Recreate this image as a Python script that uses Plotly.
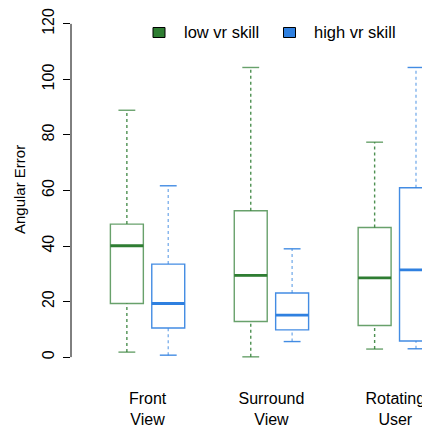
import plotly.graph_objects as go

categories = ['Front<br>View', 'Surround<br>View', 'Rotating<br>User']
series_names = ['low vr skill', 'high vr skill']

low_min = [1.8, 0.1, 2.9]
low_q1 = [19.3, 12.8, 11.4]
low_med = [40.1, 29.4, 28.5]
low_q3 = [47.9, 52.7, 46.7]
low_max = [88.9, 104.3, 77.4]

high_min = [0.7, 5.6, 3.0]
high_q1 = [10.5, 9.8, 5.8]
high_med = [19.3, 15.1, 31.4]
high_q3 = [33.5, 23.1, 61.0]
high_max = [61.7, 39.0, 104.3]

y_ticks = [0, 20, 40, 60, 80, 100, 120]

# the page body has an 8px default margin; the figure is sized to end at the window edge
PAGE_OFF = 8
W, H = 430 - PAGE_OFF, 428 - PAGE_OFF
ML, MR, MT, MB = 71 - PAGE_OFF, 0, 10 - PAGE_OFF, 57
FONT = 'Liberation Sans, Arial, Helvetica, sans-serif'

GREEN = '#2E7D32'
GREEN_BOX = 'rgba(46,125,50,0.72)'
GREEN_WH = 'rgba(46,125,50,0.85)'
BLUE = '#2F80E0'
BLUE_BOX = 'rgba(47,128,224,0.9)'
BLUE_WH = 'rgba(47,128,224,0.6)'

centers = [1, 2, 3]
off = 0.167
box_w = 0.266
cap_half = 0.068

fig = go.Figure()

groups = [
    (series_names[0], -off, low_min, low_q1, low_med, low_q3, low_max, GREEN, GREEN_BOX, GREEN_WH),
    (series_names[1], off, high_min, high_q1, high_med, high_q3, high_max, BLUE, BLUE_BOX, BLUE_WH),
]

for name, o, mn, q1, med, q3, mx, col, boxcol, whcol in groups:
    xs = [c + o for c in centers]
    fig.add_trace(go.Box(
        x=xs, q1=q1, median=med, q3=q3, lowerfence=q1, upperfence=q3,
        width=box_w, whiskerwidth=0, fillcolor='rgba(255,255,255,0)',
        line=dict(color=boxcol, width=1.4), name=name, showlegend=False,
        hoverinfo='skip'))
    # whiskers
    wx, wy = [], []
    for x, a, b, c, d in zip(xs, mn, q1, q3, mx):
        wx += [x, x, None, x, x, None]
        wy += [a, b, None, c, d, None]
    fig.add_trace(go.Scatter(x=wx, y=wy, mode='lines', showlegend=False,
                             line=dict(color=whcol, width=1.4, dash='3px,3px'),
                             hoverinfo='skip'))
    # caps
    cx, cy = [], []
    for x, a, d in zip(xs, mn, mx):
        cx += [x - cap_half, x + cap_half, None, x - cap_half, x + cap_half, None]
        cy += [a, a, None, d, d, None]
    fig.add_trace(go.Scatter(x=cx, y=cy, mode='lines', showlegend=False,
                             line=dict(color=boxcol, width=1.4), hoverinfo='skip'))
    # medians
    mxs, mys = [], []
    for x, m in zip(xs, med):
        mxs += [x - box_w / 2, x + box_w / 2, None]
        mys += [m, m, None]
    fig.add_trace(go.Scatter(x=mxs, y=mys, mode='lines', showlegend=False,
                             line=dict(color=col, width=2.8), hoverinfo='skip'))

PW = W - ML - MR
PH = H - MT - MB


def px(xp):
    # page pixel -> paper
    return (xp - PAGE_OFF - ML) / PW


def py(yp):
    return (H - MB - (yp - PAGE_OFF)) / PH


shapes = [
    dict(type='line', xref='paper', yref='y', x0=0, x1=0, y0=y_ticks[0], y1=y_ticks[-1],
         line=dict(color='black', width=1)),
]
annotations = [
    dict(text='Angular Error', xref='paper', yref='paper', x=px(19), y=py(190),
         showarrow=False, textangle=-90, font=dict(family=FONT, size=15, color='black'),
         xanchor='center', yanchor='middle'),
]
legend_items = [(series_names[0], GREEN, 153, 181.5), (series_names[1], BLUE, 283.5, 311.5)]
for name, col, sx, tx in legend_items:
    shapes.append(dict(type='rect', xref='paper', yref='paper',
                       x0=px(sx), x1=px(sx + 12), y0=py(37.5), y1=py(27.5),
                       fillcolor=col, line=dict(color='black', width=1)))
    annotations.append(dict(text=name, xref='paper', yref='paper', x=px(tx), y=py(32),
                            showarrow=False, xanchor='left', yanchor='middle',
                            font=dict(family=FONT, size=16.5, color='black')))

fig.update_layout(
    width=W, height=H, margin=dict(l=ML, r=MR, t=MT, b=MB, autoexpand=False),
    paper_bgcolor='white', plot_bgcolor='white', boxmode='overlay',
    showlegend=False, font=dict(family=FONT, color='black'),
    shapes=shapes, annotations=annotations,
)
fig.update_xaxes(range=[0.382, 3.28], tickvals=centers, ticktext=categories,
                 ticks='', showline=False, showgrid=False, zeroline=False,
                 automargin=False,
                 tickfont=dict(family=FONT, size=16, color='black'),
                 ticklabelstandoff=16)
fig.update_yaxes(range=[-5, 125], tickvals=y_ticks, ticks='outside', ticklen=7,
                 tickwidth=1, tickcolor='black', showline=False, showgrid=False,
                 zeroline=False, tickangle=-90, automargin=False,
                 tickfont=dict(family=FONT, size=16, color='black'),
                 ticklabelstandoff=3)

fig.write_html('out.html')
